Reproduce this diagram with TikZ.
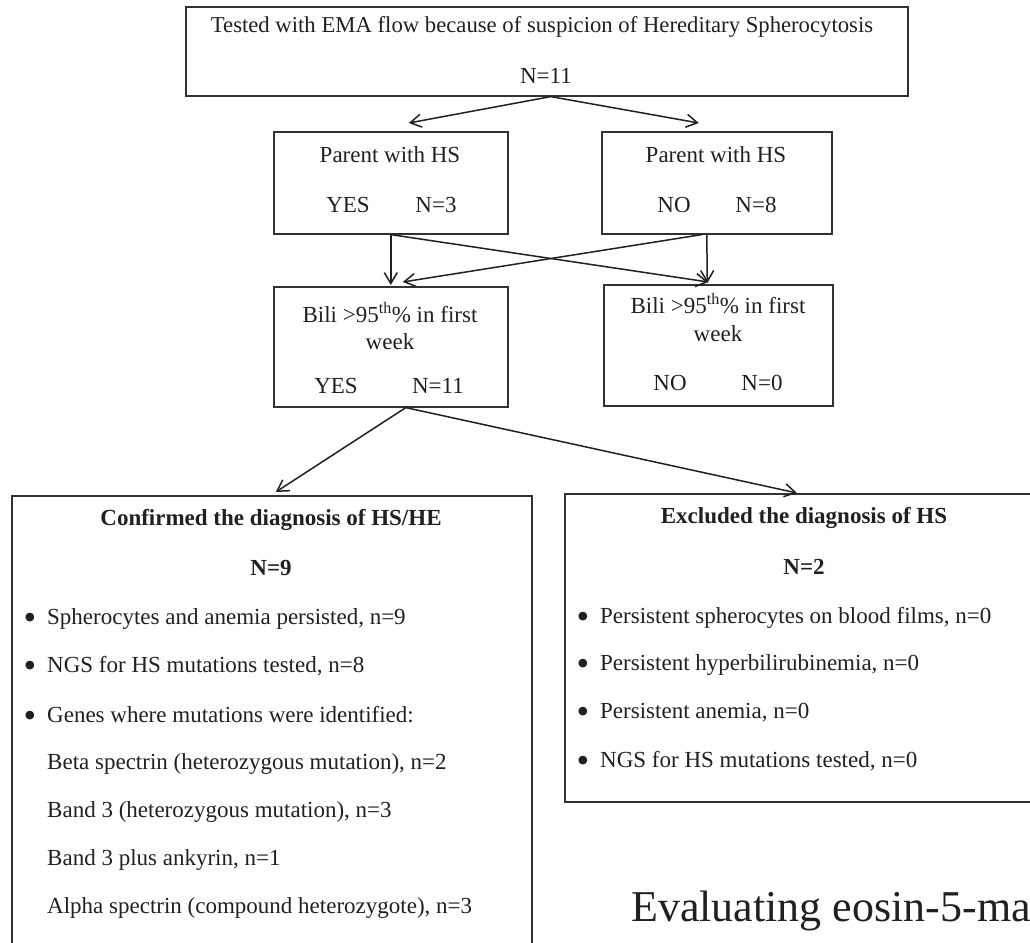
\documentclass[tikz,border=0pt]{standalone}
\usepackage{fontspec}
\setmainfont{Liberation Serif}
\usetikzlibrary{arrows.meta,calc}
\definecolor{ink}{RGB}{35,31,32}
\definecolor{frame}{RGB}{50,50,50}

\begin{document}
\begin{tikzpicture}[x=1bp,y=-1bp,
  box/.style={draw=frame, line width=1.6bp, rectangle, inner sep=0pt, anchor=north west},
  txt/.style={inner sep=0pt, anchor=base, text=ink, font=\fontsize{23bp}{27bp}\selectfont},
  ltxt/.style={txt, anchor=base west},
  btxt/.style={txt, font=\fontsize{23bp}{27bp}\selectfont\bfseries},
  item/.style={ltxt},
  conn/.style={draw=ink, line width=1.5bp, -{Straight Barb[length=11bp,width=13bp,line width=1.5bp]}},
]
\useasboundingbox (0,0) rectangle (1030,943);
\clip (0,0) rectangle (1030,943);
\newcommand\bul{\llap{\raisebox{-5bp}{\fontsize{36bp}{36bp}\selectfont\textbullet}\hspace{11bp}}}

% boxes
\node[box, minimum width=722bp, minimum height=89bp]  (top)  at (185,6)   {};
\node[box, minimum width=234bp, minimum height=102bp] (pyes) at (273,131) {};
\node[box, minimum width=230bp, minimum height=102bp] (pno)  at (601,131) {};
\node[box, minimum width=234bp, minimum height=120bp] (byes) at (273,286) {};
\node[box, minimum width=229bp, minimum height=121bp] (bno)  at (603,284) {};
\node[box, minimum width=520bp, minimum height=470bp] (conf) at (11,495)  {};
\node[box, minimum width=481bp, minimum height=308bp] (excl) at (564,493) {};

% top box text
\node[txt, font=\fontsize{22.7bp}{27bp}\selectfont] (t1) at (542,32) {Tested with EMA flow because of suspicion of Hereditary Spherocytosis};
\node[txt] (t2) at (546,83) {N=11};

% parent boxes
\node[txt] (py1) at (390,162) {Parent with HS};
\node[txt] (py2) at (348,212) {YES};
\node[txt] (py3) at (436,212) {N=3};
\node[txt] (pn1) at (716,162) {Parent with HS};
\node[txt] (pn2) at (674,212) {NO};
\node[txt] (pn3) at (756,212) {N=8};

% bilirubin boxes
\node[txt] (by1) at (390,322) {Bili >95\textsuperscript{th}\% in first};
\node[txt] (by2) at (390,349) {week};
\node[txt] (by3) at (336,393) {YES};
\node[txt] (by4) at (438,393) {N=11};
\node[txt] (bn1) at (718,313) {Bili >95\textsuperscript{th}\% in first};
\node[txt] (bn2) at (718,341) {week};
\node[txt] (bn3) at (670,390) {NO};
\node[txt] (bn4) at (762,390) {N=0};

% confirmed box
\node[btxt] (c0) at (271,525) {Confirmed the diagnosis of HS/HE};
\node[btxt] (c1) at (271,575) {N=9};
\node[item] (c2) at (47,624) {\bul Spherocytes and anemia persisted, n=9};
\node[item] (c3) at (47,672) {\bul NGS for HS mutations tested, n=8};
\node[item] (c4) at (47,722) {\bul Genes where mutations were identified:};
\node[item] (c5) at (47,769) {Beta spectrin (heterozygous mutation), n=2};
\node[item] (c6) at (47,817) {Band 3 (heterozygous mutation), n=3};
\node[item] (c7) at (47,865) {Band 3 plus ankyrin, n=1};
\node[item] (c8) at (47,913) {Alpha spectrin (compound heterozygote), n=3};

% excluded box
\node[btxt] (e0) at (804,523) {Excluded the diagnosis of HS};
\node[btxt] (e1) at (804,574) {N=2};
\node[item] (e2) at (600,623) {\bul Persistent spherocytes on blood films, n=0};
\node[item] (e3) at (600,670) {\bul Persistent hyperbilirubinemia, n=0};
\node[item] (e4) at (600,718) {\bul Persistent anemia, n=0};
\node[item] (e5) at (600,767) {\bul NGS for HS mutations tested, n=0};

% running title below
\node[ltxt, font=\fontsize{44bp}{50bp}\selectfont] (head) at (631,921) {Evaluating eosin-5-ma};

% connectors
\draw[conn] ($(top.south)+(4,0)$) -- ($(pyes.north)+(18,-8)$);
\draw[conn] ($(top.south)+(4,0)$) -- ($(pno.north)+(-18,-8)$);
\draw[conn] (pyes.south) -- ($(byes.north)+(0,-1)$);
\draw[conn] (pyes.south) -- ($(bno.north)+(-10,-2)$);
\draw[conn] ($(pno.south)+(-10,0)$) -- ($(bno.north)+(-11,-1)$);
\draw[conn] ($(pno.south)+(-15,0)$) -- ($(byes.north)+(12,-4)$);
\draw[conn] ($(byes.south)+(15,0)$) -- ($(conf.north)+(4,-3)$);
\draw[conn] ($(byes.south)+(15,0)$) -- ($(excl.north west)+(233,0)$);
\end{tikzpicture}
\end{document}
